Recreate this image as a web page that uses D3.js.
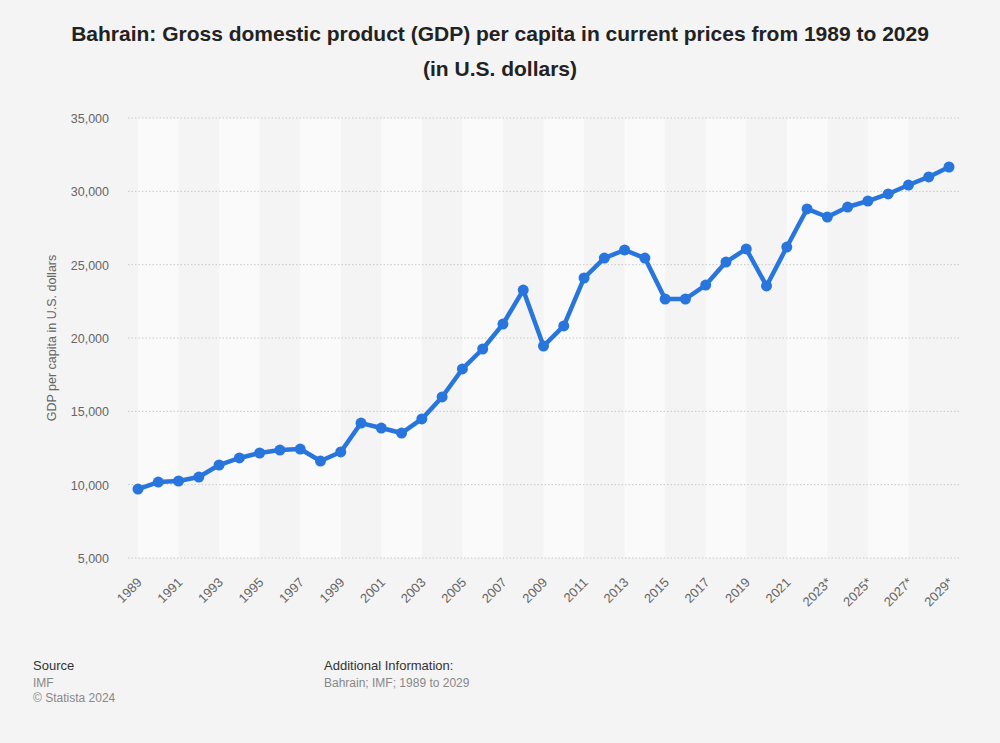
<!DOCTYPE html>
<html>
<head>
<meta charset="utf-8">
<script src="https://cdn.jsdelivr.net/npm/d3@7"></script>
<style>
  html, body { margin: 0; padding: 0; background: #f4f4f4; }
  svg { display: block; font-family: "Liberation Sans", Arial, sans-serif; }
</style>
</head>
<body>
<svg id="chart" width="1000" height="743"></svg>
<script>
const years = ["1989","1990","1991","1992","1993","1994","1995","1996","1997","1998","1999","2000","2001","2002","2003","2004","2005","2006","2007","2008","2009","2010","2011","2012","2013","2014","2015","2016","2017","2018","2019","2020","2021","2022","2023*","2024*","2025*","2026*","2027*","2028*","2029*"];
const gdpPerCapita = [9700,10180,10250,10520,11340,11820,12160,12360,12430,11610,12230,14200,13860,13520,14480,15980,17890,19250,20950,23270,19450,20820,24090,25450,26000,25450,22660,22660,23610,25180,26070,23550,26200,28800,28250,28930,29340,29820,30430,30980,31660];
const yTicks = [5000,10000,15000,20000,25000,30000,35000];
const titleLines = ["Bahrain: Gross domestic product (GDP) per capita in current prices from 1989 to 2029", "(in U.S. dollars)"];
const yAxisTitle = "GDP per capita in U.S. dollars";

const svg = d3.select("#chart");
const W = 1000, H = 743;
svg.append("rect").attr("width", W).attr("height", H).attr("fill", "#f4f4f4");

const gridLeft = 128, gridRight = 960;
const x = d3.scalePoint().domain(years).range([138, 949]);
const y = d3.scaleLinear().domain([5000, 35000]).range([558, 118]);

// alternating bands (2 years wide)
const bandStarts = years.filter((d, i) => i % 4 === 0 && i < years.length - 1);
svg.append("g").selectAll("rect").data(bandStarts).join("rect")
  .attr("x", d => x(d))
  .attr("width", d => x(years[years.indexOf(d) + 2]) - x(d))
  .attr("y", y(35000))
  .attr("height", y(5000) - y(35000))
  .attr("fill", "#fafafa");

// grid lines
svg.append("g").selectAll("line").data(yTicks).join("line")
  .attr("x1", gridLeft).attr("x2", gridRight)
  .attr("y1", d => y(d)).attr("y2", d => y(d))
  .attr("stroke", "#c8c8c8").attr("stroke-width", 1)
  .attr("stroke-dasharray", "1.5,2");

// y axis
const yAxis = d3.axisLeft(y).tickValues(yTicks).tickSize(0).tickPadding(0)
  .tickFormat(d => d3.format(",")(d));
const yg = svg.append("g").attr("transform", "translate(109,0)").call(yAxis);
yg.select(".domain").remove();
yg.selectAll("text").attr("font-size", "12.5px").attr("fill", "#666")
  .attr("font-family", "'Liberation Sans', Arial, sans-serif").attr("dy", "0.35em");

// y axis title
svg.append("text")
  .attr("transform", "translate(56,338) rotate(-90)")
  .attr("text-anchor", "middle")
  .attr("font-size", "12.5px").attr("fill", "#666")
  .text(yAxisTitle);

// x axis
const xAxis = d3.axisBottom(x).tickValues(years.filter((d, i) => i % 2 === 0)).tickSize(0).tickPadding(0);
const xg = svg.append("g").attr("transform", "translate(0,566)").call(xAxis);
xg.select(".domain").remove();
xg.selectAll("text")
  .attr("font-size", "13px").attr("fill", "#666")
  .attr("font-family", "'Liberation Sans', Arial, sans-serif")
  .attr("text-anchor", "end")
  .attr("y", 0)
  .attr("dy", "0.35em")
  .attr("transform", "translate(1,14) rotate(-45)");

// line
const line = d3.line().x((d, i) => x(years[i])).y(d => y(d));
svg.append("path").datum(gdpPerCapita)
  .attr("d", line)
  .attr("fill", "none")
  .attr("stroke", "#2876dd")
  .attr("stroke-width", 4.5)
  .attr("stroke-linejoin", "round");

svg.append("g").selectAll("circle").data(gdpPerCapita).join("circle")
  .attr("cx", (d, i) => x(years[i]))
  .attr("cy", d => y(d))
  .attr("r", 5.5)
  .attr("fill", "#2876dd");

// title
svg.append("g").selectAll("text").data(titleLines).join("text")
  .attr("x", 500)
  .attr("y", (d, i) => 41 + i * 35)
  .attr("text-anchor", "middle")
  .attr("font-size", "21px")
  .attr("font-weight", "bold")
  .attr("fill", "#222")
  .text(d => d);

// footer
const footer = svg.append("g").attr("font-size", "12px");
footer.append("text").attr("x", 33).attr("y", 670).attr("fill", "#333").attr("font-size", "13px").text("Source");
footer.append("text").attr("x", 33).attr("y", 687).attr("fill", "#888").text("IMF");
footer.append("text").attr("x", 33).attr("y", 702).attr("fill", "#888").text("© Statista 2024");
footer.append("text").attr("x", 324).attr("y", 670).attr("fill", "#333").attr("font-size", "13px").text("Additional Information:");
footer.append("text").attr("x", 324).attr("y", 687).attr("fill", "#888").text("Bahrain; IMF; 1989 to 2029");
</script>
</body>
</html>
